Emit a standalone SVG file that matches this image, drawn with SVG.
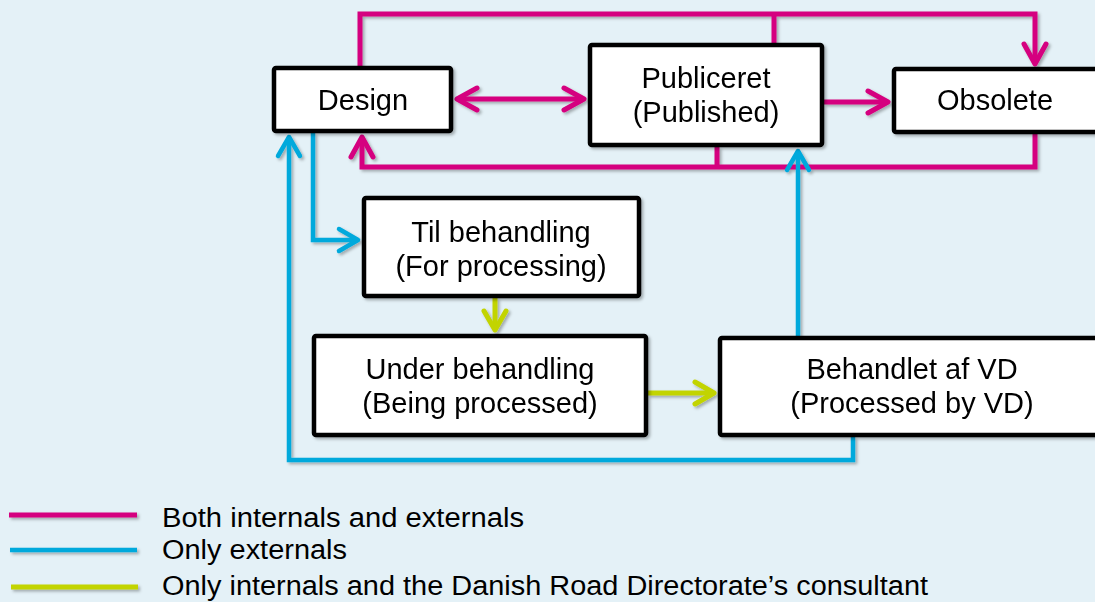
<svg xmlns="http://www.w3.org/2000/svg" width="1095" height="602" viewBox="0 0 1095 602">
<style>
.box{fill:#fff;stroke:#000;stroke-width:4.5}
.t{font-family:"Liberation Sans",Arial,sans-serif;font-size:29px;fill:#000;text-anchor:middle}
.lg{font-family:"Liberation Sans",Arial,sans-serif;font-size:27px;fill:#000}
.m{fill:none;stroke:#d5007f;stroke-width:5}
.b{fill:none;stroke:#00a9dc;stroke-width:4.5}
.g{fill:none;stroke:#c2d400;stroke-width:5}
</style>
<defs>
<filter id="sh" x="-10%" y="-10%" width="120%" height="130%">
<feDropShadow dx="2" dy="2" stdDeviation="1.5" flood-color="#000" flood-opacity="0.3"/>
</filter>
<marker id="am" markerUnits="userSpaceOnUse" markerWidth="40" markerHeight="40" viewBox="-30 -20 40 40" refX="0" refY="0" orient="auto-start-reverse">
<path d="M-20,-11 L0,0 L-20,11" fill="none" stroke="#d5007f" stroke-width="5" stroke-linecap="round" stroke-linejoin="round"/>
</marker>
<marker id="ab" markerUnits="userSpaceOnUse" markerWidth="40" markerHeight="40" viewBox="-30 -20 40 40" refX="0" refY="0" orient="auto-start-reverse">
<path d="M-19,-11 L0,0 L-19,11" fill="none" stroke="#00a9dc" stroke-width="4.5" stroke-linecap="round" stroke-linejoin="round"/>
</marker>
<marker id="ag" markerUnits="userSpaceOnUse" markerWidth="40" markerHeight="40" viewBox="-30 -20 40 40" refX="0" refY="0" orient="auto-start-reverse">
<path d="M-19,-11 L0,0 L-19,11" fill="none" stroke="#c2d400" stroke-width="5" stroke-linecap="round" stroke-linejoin="round"/>
</marker>
</defs>
<rect width="1095" height="602" fill="#e4f1f7"/>

<g id="connectors" filter="url(#sh)">
<path class="m" d="M360,66 V14 H1035 V64" marker-end="url(#am)"/>
<path class="m" d="M774,45 V14"/>
<path class="m" d="M457,99 H584" marker-start="url(#am)" marker-end="url(#am)"/>
<path class="m" d="M824,102 H888" marker-end="url(#am)"/>
<path class="m" d="M1035,134 V167 H362 V137" marker-end="url(#am)"/>
<path class="m" d="M717,147 V167"/>
<path class="b" d="M853,437 V460 H289 V137" marker-end="url(#ab)"/>
<path class="b" d="M313,133 V240 H358" marker-end="url(#ab)"/>
<path class="b" d="M798,336 V151" marker-end="url(#ab)"/>
<path class="g" d="M495,298 V330" marker-end="url(#ag)"/>
<path class="g" d="M648,393 H714" marker-end="url(#ag)"/>
</g>

<g id="design" filter="url(#sh)">
<rect class="box" x="274" y="68" width="177" height="63" rx="2"/>
<text class="t" x="363" y="110">Design</text>
</g>
<g id="publiceret" filter="url(#sh)">
<rect class="box" x="590" y="45" width="232" height="100" rx="2"/>
<text class="t" x="706" y="88">Publiceret</text>
<text class="t" x="706" y="122">(Published)</text>
</g>
<g id="obsolete" filter="url(#sh)">
<rect class="box" x="894" y="69" width="210" height="63" rx="2"/>
<text class="t" x="995" y="110">Obsolete</text>
</g>
<g id="til" filter="url(#sh)">
<rect class="box" x="364" y="198" width="275" height="98" rx="2"/>
<text class="t" x="501" y="242">Til behandling</text>
<text class="t" x="501" y="276">(For processing)</text>
</g>
<g id="under" filter="url(#sh)">
<rect class="box" x="314" y="336" width="332" height="99" rx="2"/>
<text class="t" x="480" y="379">Under behandling</text>
<text class="t" x="480" y="413">(Being processed)</text>
</g>
<g id="behandlet" filter="url(#sh)">
<rect class="box" x="720" y="338" width="390" height="97" rx="2"/>
<text class="t" x="912" y="379">Behandlet af VD</text>
<text class="t" x="912" y="413">(Processed by VD)</text>
</g>

<g id="legend">
<g filter="url(#sh)">
<line class="m" x1="9" y1="515" x2="137" y2="515"/>
<line class="b" x1="10" y1="550" x2="137" y2="550"/>
<line class="g" x1="11" y1="587" x2="138" y2="587"/>
</g>
<text class="lg" x="162" y="527" textLength="362" lengthAdjust="spacingAndGlyphs">Both internals and externals</text>
<text class="lg" x="162" y="559" textLength="185" lengthAdjust="spacingAndGlyphs">Only externals</text>
<text class="lg" x="162" y="595" textLength="766" lengthAdjust="spacingAndGlyphs">Only internals and the Danish Road Directorate’s consultant</text>
</g>
</svg>
